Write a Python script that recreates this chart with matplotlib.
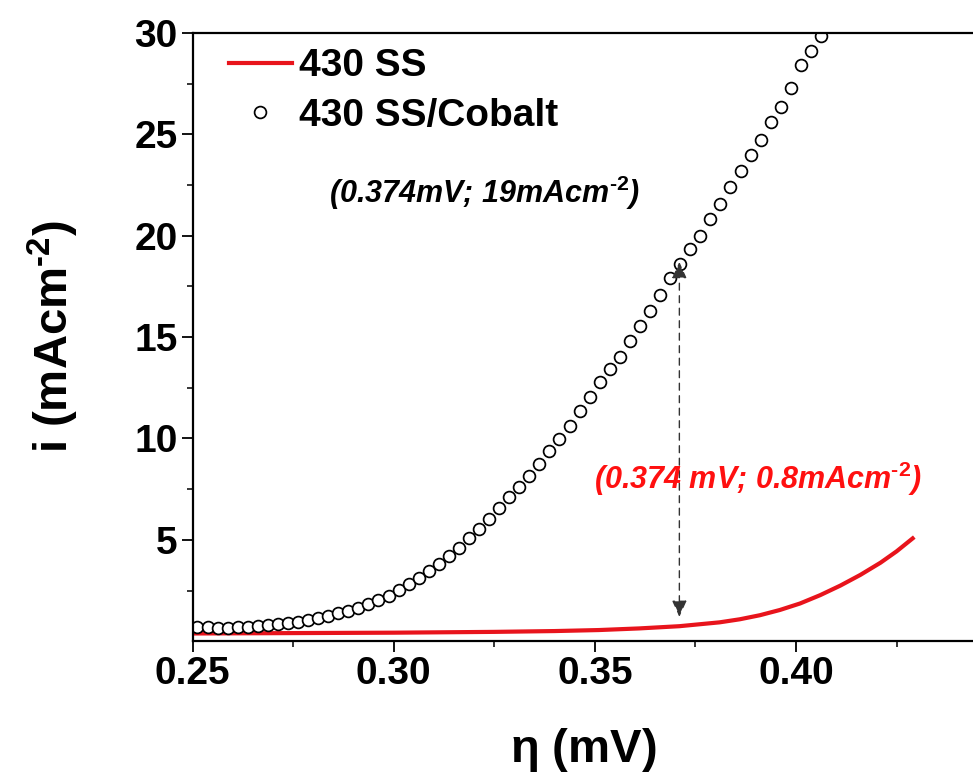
import numpy as np
import matplotlib
matplotlib.use("Agg")
import matplotlib.pyplot as plt

# Polarisation curves: 430 SS (line) and 430 SS/Cobalt (open circles)
# values, eta in mV, i in mA cm^-2

ss_eta = [0.250, 0.275, 0.300, 0.325, 0.340, 0.351, 0.361, 0.371, 0.381,
          0.386, 0.391, 0.396, 0.401, 0.406, 0.411, 0.416, 0.421, 0.425, 0.429]
ss_i = [0.38, 0.40, 0.42, 0.46, 0.50, 0.55, 0.63, 0.74, 0.93,
        1.08, 1.28, 1.54, 1.86, 2.27, 2.74, 3.27, 3.87, 4.43, 5.07]

co_eta = [0.2512, 0.2537, 0.2562, 0.2587, 0.2612, 0.2637, 0.2662, 0.2687,
          0.2712, 0.2737, 0.2762, 0.2787, 0.2812, 0.2837, 0.2862, 0.2887,
          0.2912, 0.2937, 0.2962, 0.2987, 0.3012, 0.3037, 0.3062, 0.3087,
          0.3112, 0.3137, 0.3162, 0.3187, 0.3212, 0.3237, 0.3262, 0.3287,
          0.3312, 0.3337, 0.3362, 0.3387, 0.3412, 0.3437, 0.3462, 0.3487,
          0.3512, 0.3537, 0.3562, 0.3587, 0.3612, 0.3637, 0.3662, 0.3687,
          0.3712, 0.3737, 0.3762, 0.3787, 0.3812, 0.3837, 0.3862, 0.3887,
          0.3912, 0.3937, 0.3962, 0.3987, 0.4012, 0.4037, 0.4062]
co_i = [0.71, 0.68, 0.66, 0.66, 0.68, 0.71, 0.75, 0.80,
        0.85, 0.90, 0.96, 1.05, 1.15, 1.25, 1.37, 1.50,
        1.66, 1.83, 2.03, 2.25, 2.52, 2.82, 3.14, 3.46,
        3.80, 4.19, 4.62, 5.10, 5.55, 6.04, 6.55, 7.10,
        7.62, 8.16, 8.75, 9.38, 9.98, 10.60, 11.33, 12.05,
        12.76, 13.40, 14.00, 14.79, 15.55, 16.27, 17.05, 17.90,
        18.60, 19.32, 19.98, 20.80, 21.55, 22.40, 23.19, 23.96,
        24.70, 25.60, 26.35, 27.30, 28.40, 29.10, 29.86]

# marked point (double arrow between the two curves)
arrow_eta = 0.371
arrow_low = 1.2
arrow_high = 18.7

xticks = [0.25, 0.30, 0.35, 0.40]
yticks = [5, 10, 15, 20, 25, 30]

plt.rcParams['font.family'] = ['Liberation Sans', 'DejaVu Sans']
plt.rcParams['font.weight'] = 'bold'
plt.rcParams['mathtext.fontset'] = 'custom'
plt.rcParams['mathtext.rm'] = 'Liberation Sans:bold'
plt.rcParams['mathtext.bf'] = 'Liberation Sans:bold'
plt.rcParams['mathtext.it'] = 'Liberation Sans:bold:italic'

fig = plt.figure(figsize=(9.73, 7.81), dpi=100)
ax = fig.add_axes([0.198, 0.179, 0.802, 0.779])

ax.plot(ss_eta, ss_i, color='#e8141c', lw=3.0, label='430 SS')
ax.plot(co_eta, co_i, ls='none', marker='o', ms=8.5, mfc='white',
        mec='black', mew=1.25, label='430 SS/Cobalt')

ax.annotate('', xy=(arrow_eta, arrow_high), xytext=(arrow_eta, arrow_low),
            arrowprops=dict(arrowstyle='<|-|>,head_length=1.0,head_width=0.45',
                            linestyle=(0, (5, 4)), lw=1.0, color='#333333',
                            shrinkA=0, shrinkB=0))

sup = r'$^{\mathbf{\text{-}2}}$'
ax.text(0.3225, 22.1, '(0.374mV; 19mAcm' + sup + ')', fontsize=22,
        fontstyle='italic', fontweight='bold', ha='center', va='center',
        color='black')
ax.text(0.3905, 8.0, '(0.374 mV; 0.8mAcm' + sup + ')', fontsize=22,
        fontstyle='italic', fontweight='bold', ha='center', va='center',
        color='#ff1010')

ax.set_xlim(0.25, 0.444)
ax.set_ylim(0, 30)
ax.set_xticks(xticks)
ax.set_xticklabels(['%.2f' % t for t in xticks])
ax.set_yticks(yticks)
ax.set_xticks([0.275, 0.325, 0.375, 0.425], minor=True)
ax.set_yticks(np.arange(2.5, 30, 5), minor=True)

ax.spines['right'].set_visible(False)
for s in ['left', 'bottom', 'top']:
    ax.spines[s].set_linewidth(1.6)
ax.tick_params(which='major', direction='out', length=8, width=1.3,
               labelsize=28, pad=3)
ax.tick_params(which='minor', direction='out', length=4, width=1.1)
ax.tick_params(top=False, right=False)

ax.set_xlabel(r'$\mathrm{\eta}$ (mV)', fontsize=34, fontweight='bold',
              labelpad=24)
ax.set_ylabel('i (mAcm' + sup + ')', fontsize=34, fontweight='bold',
              labelpad=38)

ax.legend(loc='upper left', frameon=False, fontsize=28, handlelength=1.6,
          handletextpad=0.2, labelspacing=0.35, borderaxespad=0.0,
          bbox_to_anchor=(0.027, 1.0))

fig.savefig('out.png', dpi=100)
